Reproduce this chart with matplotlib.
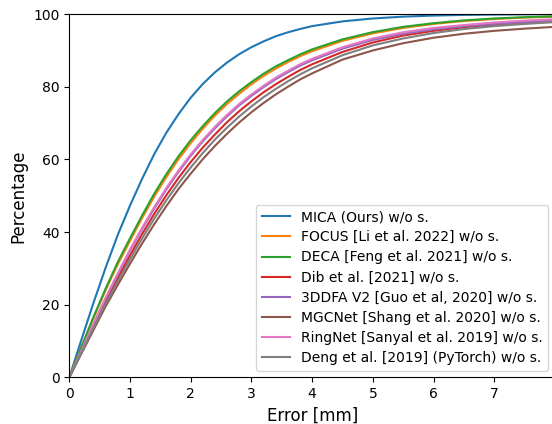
import numpy as np
import matplotlib
matplotlib.use("Agg")
import matplotlib.pyplot as plt

# error grid [mm]
err = [0, 0.2, 0.4, 0.6, 0.8, 1.0, 1.2, 1.4, 1.6, 1.8, 2.0, 2.2, 2.4, 2.6, 2.8, 3.0,
       3.2, 3.4, 3.6, 3.8, 4.0, 4.5, 5.0, 5.5, 6.0, 6.5, 7.0, 7.5, 8.0]

# cumulative percentage per method
mica = [0, 10.4, 20.6, 30.3, 39.3, 47.3, 54.7, 61.5, 67.4, 72.5, 77.0, 80.8, 84.0, 86.7, 89.0, 90.9,
        92.5, 93.9, 95.0, 95.9, 96.7, 98.0, 98.8, 99.3, 99.6, 99.78, 99.88, 99.93, 99.96]
focus = [0, 8.3, 16.4, 24.1, 31.2, 37.6, 43.9, 49.8, 55.2, 60.1, 64.5, 68.5, 72.1, 75.3, 78.1, 80.7,
         83.0, 85.0, 86.8, 88.4, 89.8, 92.65, 94.7, 96.2, 97.3, 98.1, 98.65, 99.05, 99.3]
deca = [0, 8.4, 16.7, 24.5, 31.8, 38.3, 44.6, 50.6, 56.0, 60.9, 65.3, 69.2, 72.8, 76.0, 78.8, 81.3,
        83.6, 85.6, 87.3, 88.9, 90.3, 93.05, 95.05, 96.5, 97.5, 98.27, 98.8, 99.15, 99.4]
dib = [0, 7.1, 14.1, 21.0, 27.4, 33.6, 39.5, 45.05, 50.2, 54.95, 59.3, 63.3, 66.9, 70.3, 73.3, 76.0,
       78.5, 80.7, 82.7, 84.6, 86.2, 89.6, 92.2, 94.1, 95.4, 96.4, 97.1, 97.7, 98.1]
ddfa = [0, 7.3, 14.7, 21.8, 28.4, 34.9, 40.9, 46.5, 51.8, 56.6, 61.0, 65.0, 68.6, 71.9, 74.9, 77.5,
        79.9, 82.1, 84.0, 85.8, 87.3, 90.5, 92.9, 94.6, 95.8, 96.7, 97.3, 97.8, 98.2]
mgcnet = [0, 6.6, 13.1, 19.6, 25.5, 31.3, 36.9, 42.2, 47.2, 51.9, 56.1, 60.1, 63.75, 67.1, 70.2, 73.0,
          75.55, 77.9, 80.0, 82.0, 83.7, 87.5, 90.0, 92.0, 93.5, 94.6, 95.4, 96.0, 96.5]
ringnet = [0, 7.4, 14.8, 22.0, 28.7, 35.2, 41.2, 46.9, 52.2, 57.0, 61.4, 65.4, 69.0, 72.3, 75.3, 77.9,
           80.3, 82.5, 84.4, 86.2, 87.7, 90.9, 93.3, 95.0, 96.2, 97.0, 97.7, 98.2, 98.6]
deng = [0, 6.8, 13.7, 20.3, 26.5, 32.5, 38.3, 43.75, 48.8, 53.5, 57.8, 61.8, 65.5, 68.8, 71.85, 74.6,
        77.15, 79.4, 81.5, 83.4, 85.1, 88.7, 91.4, 93.3, 94.8, 95.9, 96.7, 97.3, 97.8]

names = ["MICA (Ours) w/o s.",
         "FOCUS [Li et al. 2022] w/o s.",
         "DECA [Feng et al. 2021] w/o s.",
         "Dib et al. [2021] w/o s.",
         "3DDFA V2 [Guo et al, 2020] w/o s.",
         "MGCNet [Shang et al. 2020] w/o s.",
         "RingNet [Sanyal et al. 2019] w/o s.",
         "Deng et al. [2019] (PyTorch) w/o s."]
curves = [mica, focus, deca, dib, ddfa, mgcnet, ringnet, deng]

fig = plt.figure(figsize=(5.52, 4.24), dpi=100)
# right edge of the axes (x=8) sits just past the image border, like the reference
ax = fig.add_axes([0.1255, 0.1097, 0.88, 0.857])

for c, n in zip(curves, names):
    ax.plot(err, c, label=n, linewidth=1.5)

ax.set_xlim(0, 8)
ax.set_ylim(0, 100)
ax.set_xticks([0, 1, 2, 3, 4, 5, 6, 7])
ax.set_xlabel("Error [mm]", fontsize=12)
ax.set_ylabel("Percentage", fontsize=12)
ax.legend(loc="lower right", fontsize=10, labelspacing=0.44)

fig.savefig("out.png", dpi=100)
